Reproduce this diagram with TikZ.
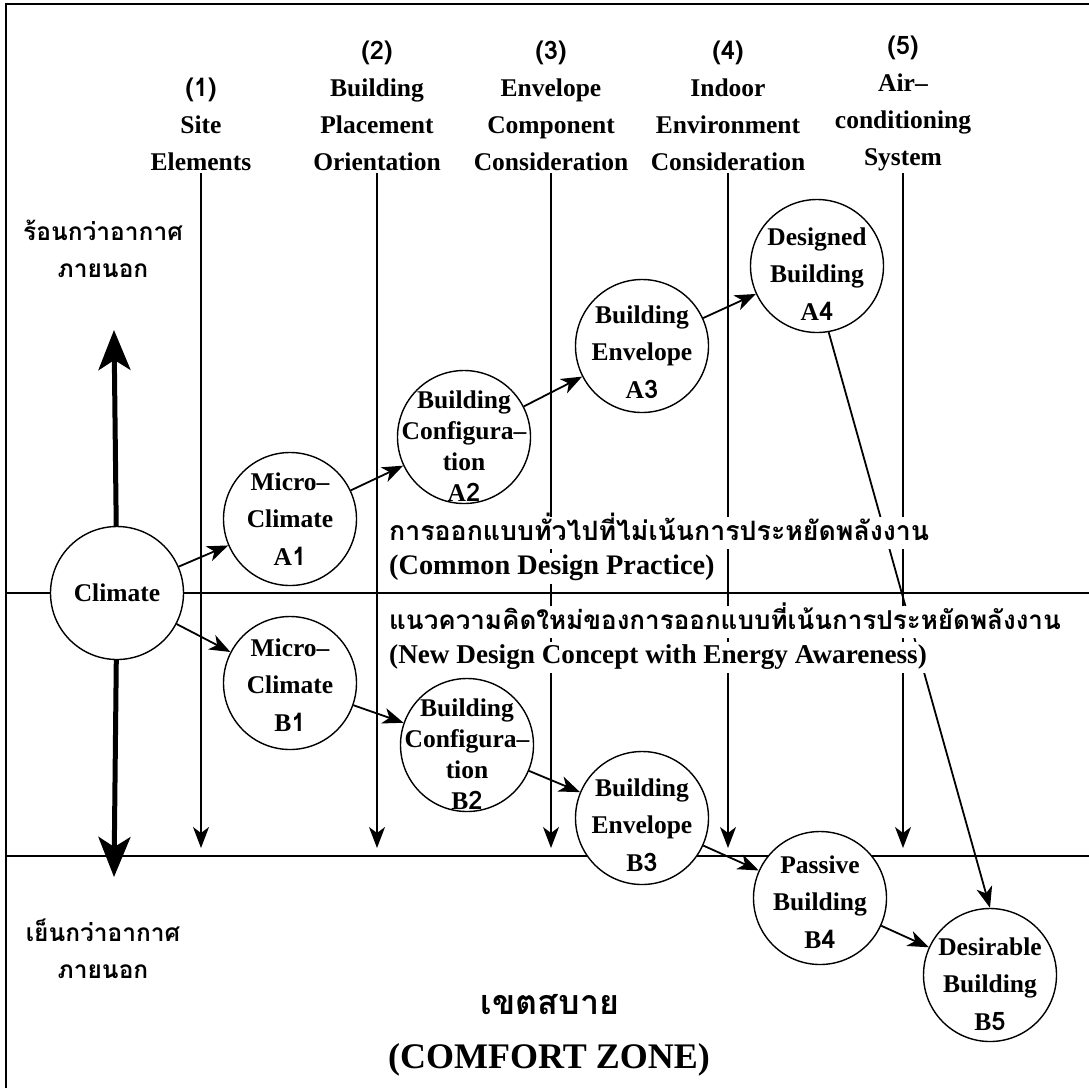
\documentclass[tikz,border=0pt]{standalone}
\usepackage{fontspec}
\setmainfont{Liberation Serif}
\newfontfamily\thaifont[Script=Thai]{Loma}
\usetikzlibrary{arrows.meta}

\newcommand\nr[2]{#1{\thaifont #2}}

\begin{document}
\begin{tikzpicture}[x=1pt,y=-1pt,>={Stealth[length=21pt,width=16pt,inset=6pt]},
	kreis/.style={circle,draw,fill=white,line width=1.4pt,minimum size=133pt,inner sep=0pt},
	ktext/.style={align=center,inner sep=0pt,font=\bfseries\fontsize{25.5}{37.5}\selectfont},
	ktextvier/.style={align=center,inner sep=0pt,font=\bfseries\fontsize{25.5}{31}\selectfont},
	kopf/.style={align=center,anchor=south,inner sep=2pt,font=\bfseries\fontsize{25.5}{37}\selectfont},
	spalte/.style={line width=1.5pt,->},
	pfeil/.style={line width=1.8pt,->},
	dick/.style={line width=5pt,-{Stealth[length=40pt,width=32pt,inset=10pt]}},
	mitte/.style={anchor=west,fill=white,inner xsep=1pt,inner ysep=3pt,text height=19pt,text depth=6pt},
	mittethai/.style={mitte,text height=20pt,text depth=6pt},
	thai/.style={align=center,font=\thaifont\bfseries\fontsize{24.5}{37}\selectfont}]
	\useasboundingbox (0,0) rectangle (1089,1088);
	
	%Rahmen und Zonen
	\draw[line width=2pt] (6,1088) -- (6,4) -- (1089,4);
	\draw[line width=2.2pt] (6,593) -- (1089,593);
	\draw[line width=2.2pt] (6,856) -- (1089,856);
	
	%Spalten
	\node (h1) [kopf] at (201,173) {{\thaifont (1)}\\Site\\Elements};
	\node (h2) [kopf] at (377,173) {{\thaifont (2)}\\Building\\Placement\\Orientation};
	\node (h3) [kopf] at (551,173) {{\thaifont (3)}\\Envelope\\Component\\Consideration};
	\node (h4) [kopf] at (728,173) {{\thaifont (4)}\\Indoor\\Environment\\Consideration};
	\node (h5) [kopf] at (903,173) {{\thaifont (5)}\\Air--\\conditioning\\System};
	
	\coordinate (e1) at (201,848);
	\coordinate (e2) at (377,848);
	\coordinate (e3) at (551,848);
	\coordinate (e4) at (728,848);
	\coordinate (e5) at (903,848);
	
	\path[spalte]
	(h1.south) edge (e1)
	(h2.south) edge (e2)
	(h3.south) edge (e3)
	(h4.south) edge (e4)
	(h5.south) edge (e5);
	
	%Klima
	\node (climate) [kreis, font=\bfseries\fontsize{25.5}{36}\selectfont] at (117,593) {Climate};
	\coordinate (hoch) at (114,330);
	\coordinate (runter) at (114,877);
	\draw[dick] (climate) -- (hoch);
	\draw[dick] (climate) -- (runter);
	
	%Kreise
	\node (a1) [kreis, label={[name=ta1,ktext]center:{Micro--\\Climate\\\nr{A}{1}}}] at (290,519) {};
	\node (a2) [kreis, label={[name=ta2,ktextvier,yshift=-9pt]center:{Building\\Configura--\\tion\\\nr{A}{2}}}] at (464,437) {};
	\node (a3) [kreis, label={[name=ta3,ktext,yshift=-6pt]center:{Building\\Envelope\\\nr{A}{3}}}] at (642,346) {};
	\node (a4) [kreis, label={[name=ta4,ktext,yshift=-8pt]center:{Designed\\Building\\\nr{A}{4}}}] at (817,266) {};
	
	\node (b1) [kreis, label={[name=tb1,ktext,yshift=-2pt]center:{Micro--\\Climate\\\nr{B}{1}}}] at (290,683) {};
	\node (b2) [kreis, label={[name=tb2,ktextvier,yshift=-9pt]center:{Building\\Configura--\\tion\\\nr{B}{2}}}] at (467,745) {};
	\node (b3) [kreis, label={[name=tb3,ktext,yshift=-7pt]center:{Building\\Envelope\\\nr{B}{3}}}] at (642,818) {};
	\node (b4) [kreis, label={[name=tb4,ktext,yshift=-4pt]center:{Passive\\Building\\\nr{B}{4}}}] at (820,898) {};
	\node (b5) [kreis, label={[name=tb5,ktext,yshift=-9pt]center:{Desirable\\Building\\\nr{B}{5}}}] at (990,975) {};
	
	%Pfeile
	\path[pfeil]
	(climate) edge (a1)
	(climate) edge (b1)
	(a1) edge (a2)
	(a2) edge (a3)
	(a3) edge (a4)
	(b1) edge (b2)
	(b2) edge (b3)
	(b3) edge (b4)
	(b4) edge (b5)
	(a4.-80) edge (b5.north);
	
	%Texte
	\node (ta) [mittethai, font=\thaifont\bfseries\fontsize{26.7}{30}\selectfont] at (388,533) {การออกแบบทั่วไปที่ไม่เน้นการประหยัดพลังงาน};
	\node (ea) [mitte, font=\bfseries\fontsize{28.3}{30}\selectfont] at (388,568) {(Common Design Practice)};
	\node (tb) [mittethai, font=\thaifont\bfseries\fontsize{26}{30}\selectfont] at (388,622) {แนวความคิดใหม่ของการออกแบบที่เน้นการประหยัดพลังงาน};
	\node (eb) [mitte, font=\bfseries\fontsize{27.2}{30}\selectfont] at (388,657) {(New Design Concept with Energy Awareness)};
	
	\node (heiss) [thai] at (103,249) {ร้อนกว่าอากาศ\\ภายนอก};
	\node (kalt) [thai] at (103,949) {เย็นกว่าอากาศ\\ภายนอก};
	
	\node (zone) [font=\thaifont\bfseries\fontsize{34}{40}\selectfont] at (550,1005) {เขตสบาย};
	\node (zonee) [font=\bfseries\fontsize{36}{40}\selectfont] at (549,1060) {(COMFORT ZONE)};
	
\end{tikzpicture}
\end{document}
